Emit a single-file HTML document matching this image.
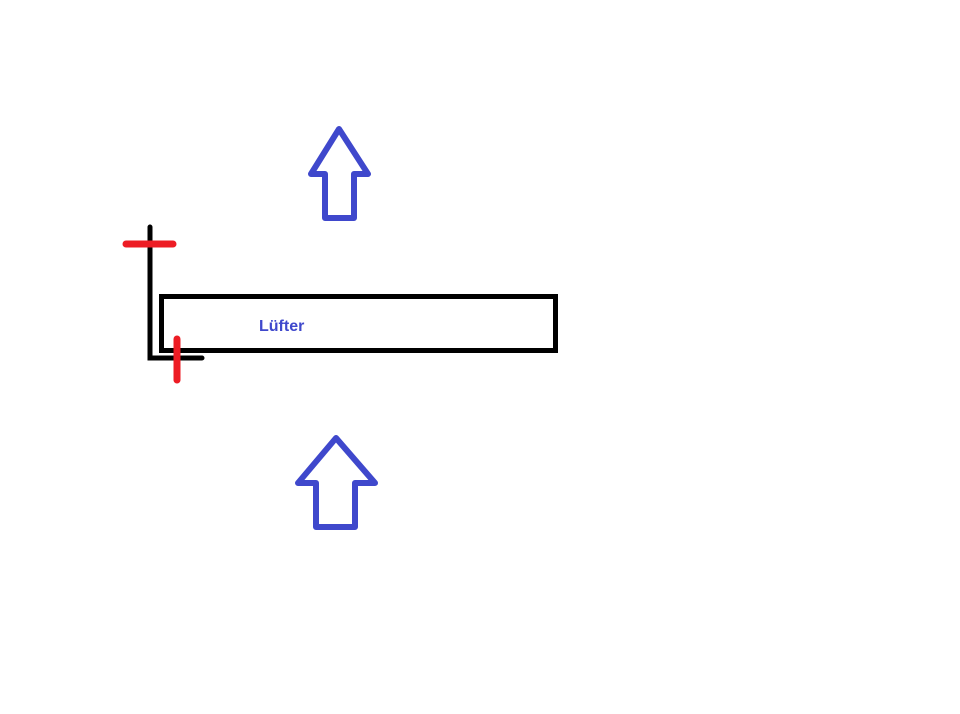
<!DOCTYPE html>
<html><head><style>body{margin:0;background:#fff;width:960px;height:709px;overflow:hidden}</style></head>
<body>
<svg width="960" height="709" xmlns="http://www.w3.org/2000/svg">
<rect x="161.5" y="296.5" width="394" height="54" fill="none" stroke="#000" stroke-width="5"/>
<polyline points="150,227 150,358 202,358" fill="none" stroke="#000" stroke-width="5" stroke-linecap="round"/>
<line x1="126" y1="244" x2="173" y2="244" stroke="#ed1c24" stroke-width="7" stroke-linecap="round"/>
<line x1="177" y1="339" x2="177" y2="380" stroke="#ed1c24" stroke-width="7" stroke-linecap="round"/>
<polygon points="339,129 368,174 354,174 354,218 325,218 325,174 311,174" fill="none" stroke="#3f48cc" stroke-width="6" stroke-linejoin="round"/>
<polygon points="336,438 375,483 355,483 355,527 316,527 316,483 298,483" fill="none" stroke="#3f48cc" stroke-width="6" stroke-linejoin="round"/>
<text x="259" y="331" font-family="Liberation Sans, sans-serif" font-weight="bold" font-size="16" fill="#3f48cc">Lüfter</text>
</svg>
</body></html>
